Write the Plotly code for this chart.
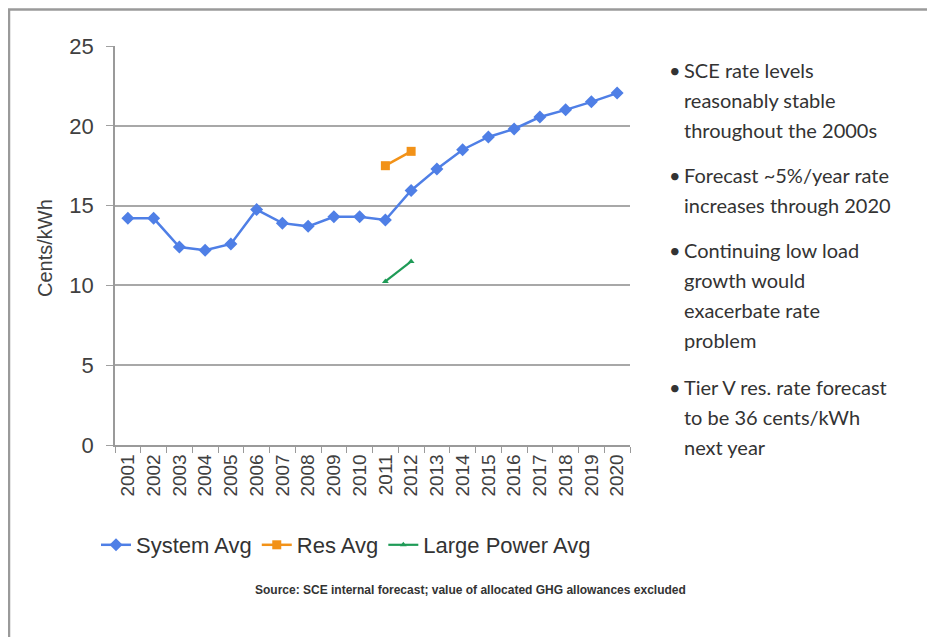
import plotly.graph_objects as go

years = [str(y) for y in range(2001, 2021)]
system_avg = [14.2, 14.2, 12.4, 12.2, 12.6, 14.75, 13.9, 13.7, 14.3, 14.3,
              14.1, 15.95, 17.3, 18.5, 19.3, 19.8, 20.55, 21.0, 21.5, 22.05]
res_years = ["2011", "2012"]
res_avg = [17.5, 18.4]
lp_years = ["2011", "2012"]
large_power_avg = [10.25, 11.5]

y_ticks = [0, 5, 10, 15, 20, 25]

bullets = [
    ["SCE rate levels", "reasonably stable", "throughout the 2000s"],
    ["Forecast ~5%/year rate", "increases through 2020"],
    ["Continuing low load", "growth would", "exacerbate rate", "problem"],
    ["Tier V res. rate forecast", "to be 36 cents/kWh", "next year"],
]
source_text = "Source: SCE internal forecast; value of allocated GHG allowances excluded"
y_title = "Cents/kWh"

# layout geometry (page pixels); page body adds an 8px offset
OFF = 8
W, H = 935 - OFF, 637 - OFF
L, R, T, B = 115 - OFF, 630 - OFF, 46 - OFF, 445 - OFF


def px(x):
    return (x - OFF - L) / (R - L)


def py(y):
    return (B - (y - OFF)) / (B - T)


fig = go.Figure()
fig.add_trace(go.Scatter(
    x=years, y=system_avg, name="System Avg", mode="lines+markers",
    line=dict(color="#4F7FE6", width=2.5),
    marker=dict(symbol="diamond", size=10, color="#4F7FE6"),
))
fig.add_trace(go.Scatter(
    x=res_years, y=res_avg, name="Res Avg", mode="lines+markers",
    line=dict(color="#F29218", width=2.5),
    marker=dict(symbol="square", size=9, color="#F29218"),
))
fig.add_trace(go.Scatter(
    x=lp_years, y=large_power_avg, name="Large Power Avg", mode="lines+markers",
    line=dict(color="#1F9B57", width=2.2),
    marker=dict(symbol="triangle-up", size=6, color="#1F9B57"),
))

annotations = []
line_y = [[70, 100, 130], [175, 205], [250, 280, 310, 340], [387, 417, 447]]
for lines, ys in zip(bullets, line_y):
    annotations.append(dict(
        x=px(667), y=py(ys[0]), xref="paper", yref="paper", text="•",
        showarrow=False, xanchor="left", yanchor="middle",
        font=dict(family="Lato", size=20, color="#333333"),
    ))
    for t, yy in zip(lines, ys):
        annotations.append(dict(
            x=px(682), y=py(yy), xref="paper", yref="paper", text=t,
            showarrow=False, xanchor="left", yanchor="middle",
            font=dict(family="Lato", size=20, color="#333333"),
        ))

annotations.append(dict(
    x=px(45), y=py(248), xref="paper", yref="paper", text=y_title,
    textangle=-90, showarrow=False, xanchor="center", yanchor="middle",
    font=dict(family="Liberation Sans, Arial", size=20, color="#404040"),
))
annotations.append(dict(
    x=px(470), y=py(590), xref="paper", yref="paper",
    text="<b>" + source_text + "</b>",
    showarrow=False, xanchor="center", yanchor="middle",
    font=dict(family="Liberation Sans, Arial", size=12, color="#333333"),
))

fig.update_layout(
    width=W, height=H,
    margin=dict(l=L, r=W - R, t=T, b=H - B),
    paper_bgcolor="white", plot_bgcolor="white",
    showlegend=True,
    legend=dict(
        orientation="h", x=px(96), y=py(545), xanchor="left", yanchor="middle",
        font=dict(family="Liberation Sans, Arial", size=22, color="#333333"),
        bgcolor="rgba(0,0,0,0)", itemwidth=30, tracegroupgap=0,
    ),
    annotations=annotations,
    shapes=[dict(
        type="rect", xref="paper", yref="paper",
        x0=px(9), x1=px(929), y0=py(660), y1=py(9.5),
        line=dict(color="#9A9A9A", width=2.5), layer="below",
    )],
    font=dict(family="Liberation Sans, Arial", color="#404040"),
)

fig.update_xaxes(
    type="category", categoryorder="array", categoryarray=years,
    range=[-0.5, len(years) - 0.5],
    tickangle=-90, tickfont=dict(size=19, color="#404040"),
    showline=True, linecolor="#9A9A9A", linewidth=1.5,
    ticks="outside", tickson="boundaries", ticklen=6, tickcolor="#9A9A9A",
    showgrid=False, zeroline=False,
)
fig.update_yaxes(
    range=[0, 25], tickvals=y_ticks,
    tickfont=dict(size=22, color="#404040"),
    showline=True, linecolor="#9A9A9A", linewidth=1.5,
    ticks="outside", ticklen=7, tickcolor="#A0A0A0",
    showgrid=True, gridcolor="#A8A8A8", gridwidth=1.5,
    zeroline=False, ticklabelstandoff=8,
)

fig.write_html("out.html")
